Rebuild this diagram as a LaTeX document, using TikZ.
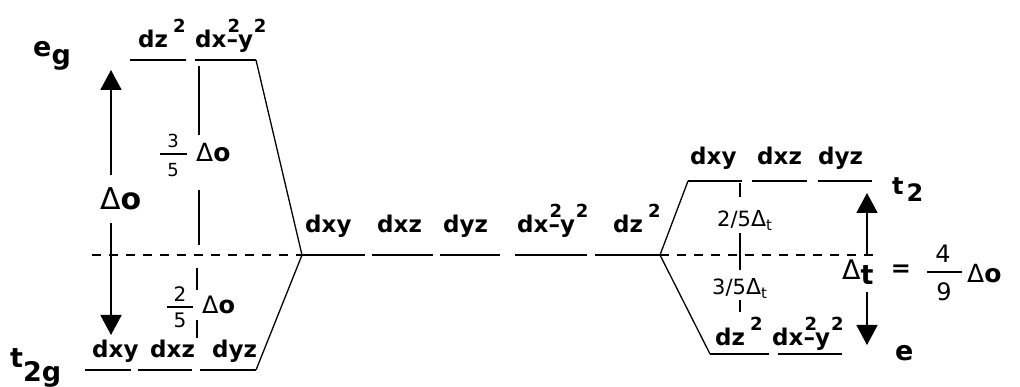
\documentclass[tikz,border=0pt]{standalone}
\usepackage{fontspec}
\setmainfont{DejaVu Sans}
\usetikzlibrary{arrows.meta}
\newcommand\supii{\raisebox{15pt}{\fontsize{18}{18}\selectfont 2}}
\newcommand\dzsq{dz\kern5pt\supii}
\newcommand\dxysq{dx\rlap{\kern1pt\supii}–y\kern1pt\supii}
\newcommand\DelO[1]{{\fontsize{#1}{#1}\selectfont\mdseries Δ}{\fontsize{#1}{#1}\selectfont\bfseries o}}
\newcommand\DelT[2]{{\fontsize{#1}{#1}\selectfont Δ}\raisebox{-4pt}{\fontsize{#2}{#2}\selectfont t}}
\tikzset{
 lvl/.style={line width=1.8pt},
 diag/.style={line width=1.3pt},
 tick/.style={line width=1.3pt},
 bar/.style={line width=1.6pt},
 dsh/.style={line width=1.3pt, dash pattern=on 9pt off 8pt},
 orb/.style={font=\fontsize{23}{23}\selectfont\bfseries, inner sep=0pt, anchor=base west},
 big/.style={font=\fontsize{27}{27}\selectfont\bfseries, inner sep=0pt, anchor=base west},
 dig/.style={inner sep=0pt},
 lab/.style={inner sep=0pt, anchor=base west},
 arr/.style={line width=1.8pt, -{Triangle[length=20pt,width=21pt]}},
}
\begin{document}
\begin{tikzpicture}[x=1pt,y=-1pt]
\useasboundingbox (0,0) rectangle (1020,387);
% coordinates
\coordinate (eg1a) at (130,60); \coordinate (eg1b) at (186,60);
\coordinate (eg2a) at (195,60); \coordinate (eg2b) at (256,60);
\coordinate (ta1) at (85,370);  \coordinate (tb1) at (131,370);
\coordinate (ta2) at (138,370); \coordinate (tb2) at (192,370);
\coordinate (ta3) at (200,370); \coordinate (tb3) at (256,370);
\coordinate (C1) at (302,255);
\coordinate (m1b) at (365,255);
\coordinate (m2a) at (372,255); \coordinate (m2b) at (433,255);
\coordinate (m3a) at (440,255); \coordinate (m3b) at (500,255);
\coordinate (m4a) at (515,255); \coordinate (m4b) at (587,255);
\coordinate (m5a) at (595,255);
\coordinate (C2) at (660,255);
\coordinate (r1a) at (688,181); \coordinate (r1b) at (742,181);
\coordinate (r2a) at (752,181); \coordinate (r2b) at (807,181);
\coordinate (r3a) at (818,181); \coordinate (r3b) at (872,181);
\coordinate (e1a) at (710,354); \coordinate (e1b) at (769,354);
\coordinate (e2a) at (778,354); \coordinate (e2b) at (842,354);
\coordinate (dl) at (92,255); \coordinate (dr) at (877,255);
% levels
\draw[lvl] (eg1a) -- (eg1b); \draw[lvl] (eg2a) -- (eg2b);
\draw[lvl] (ta1) -- (tb1); \draw[lvl] (ta2) -- (tb2); \draw[lvl] (ta3) -- (tb3);
\draw[lvl] (C1) -- (m1b); \draw[lvl] (m2a) -- (m2b); \draw[lvl] (m3a) -- (m3b);
\draw[lvl] (m4a) -- (m4b); \draw[lvl] (m5a) -- (C2);
\draw[lvl] (r1a) -- (r1b); \draw[lvl] (r2a) -- (r2b); \draw[lvl] (r3a) -- (r3b);
\draw[lvl] (e1a) -- (e1b); \draw[lvl] (e2a) -- (e2b);
% diagonals
\draw[diag] (eg2b) -- (C1) -- (tb3);
\draw[diag] (r1a) -- (C2) -- (e1a);
% dashed baselines
\draw[dsh] (dl) -- (C1);
\draw[dsh] (C2) -- (dr);
% vertical ticks left
\coordinate (v1a) at (199,66);  \coordinate (v1b) at (199,135);
\coordinate (v2a) at (199,190); \coordinate (v2b) at (199,245);
\coordinate (v3a) at (197,268); \coordinate (v3b) at (197,290);
\coordinate (v4a) at (197,320); \coordinate (v4b) at (197,338);
\draw[tick] (v1a) -- (v1b); \draw[tick] (v2a) -- (v2b);
\draw[tick] (v3a) -- (v3b); \draw[tick] (v4a) -- (v4b);
% vertical ticks right
\coordinate (w1a) at (740,183); \coordinate (w1b) at (740,197);
\coordinate (w2a) at (740,233); \coordinate (w2b) at (740,270);
\coordinate (w3a) at (740,300); \coordinate (w3b) at (740,312);
\draw[tick] (w1a) -- (w1b); \draw[tick] (w2a) -- (w2b); \draw[tick] (w3a) -- (w3b);
% arrows
\coordinate (au1) at (111,175); \coordinate (au2) at (111,70);
\coordinate (ad1) at (111,223); \coordinate (ad2) at (111,335);
\coordinate (bu1) at (867,255); \coordinate (bu2) at (867,193);
\coordinate (bd1) at (867,292); \coordinate (bd2) at (867,345);
\draw[arr] (au1) -- (au2); \draw[arr] (ad1) -- (ad2);
\draw[arr] (bu1) -- (bu2); \draw[arr] (bd1) -- (bd2);
% group labels
\node[big] (eg) at (33,57) {e\raisebox{-8pt}{g}};
\node[big] (t2g) at (10,367) {t\raisebox{-14pt}{2g}};
\node[lab, font=\fontsize{24}{24}\selectfont\bfseries] (t2) at (892,195) {t\kern3pt\raisebox{-7pt}{2}};
\node[big] (e) at (895,360) {e};
% orbital labels
\node[orb] (lz2) at (138,48) {\dzsq};
\node[orb] (lx2) at (195,48) {\dxysq};
\node[orb] (lxy) at (92,357) {dxy};
\node[orb] (lxz) at (150,357) {dxz};
\node[orb] (lyz) at (212,357) {dyz};
\node[orb] (mxy) at (305,233) {dxy};
\node[orb] (mxz) at (377,233) {dxz};
\node[orb] (myz) at (443,233) {dyz};
\node[orb] (mx2) at (517,233) {\dxysq};
\node[orb] (mz2) at (613,233) {\dzsq};
\node[orb] (rxy) at (690,165) {dxy};
\node[orb] (rxz) at (757,165) {dxz};
\node[orb] (ryz) at (818,165) {dyz};
\node[orb] (rz2) at (715,345) {\dzsq};
\node[orb] (rx2) at (772,345) {\dxysq};
% delta labels left
\node[lab] (DO) at (100,210) {\DelO{30}};
% 3/5
\node[dig, font=\fontsize{18}{18}\selectfont] (n35) at (173,141) {3};
\node[dig, font=\fontsize{18}{18}\selectfont] (d35) at (173,170) {5};
\coordinate (b35a) at (160,154); \coordinate (b35b) at (187,154);
\draw[bar] (b35a) -- (b35b);
\node[lab] (DO35) at (196,162) {\DelO{25}};
% 2/5
\node[dig, font=\fontsize{20}{20}\selectfont] (n25) at (180,294) {2};
\node[dig, font=\fontsize{20}{20}\selectfont] (d25) at (180,320) {5};
\coordinate (b25a) at (167,307); \coordinate (b25b) at (193,307);
\draw[bar] (b25a) -- (b25b);
\node[lab] (DO25) at (202,313) {\DelO{24}};
% delta labels right
\node[lab, font=\fontsize{21}{21}\selectfont] (t25) at (717,227) {2/5\DelT{22}{15}};
\node[lab, font=\fontsize{21}{21}\selectfont] (t35) at (712,295) {3/5\DelT{22}{15}};
\node[lab] (DT) at (842,280) {{\fontsize{27}{27}\selectfont Δ}\raisebox{-5pt}{\fontsize{27}{27}\selectfont\bfseries t}};
\node[inner sep=0pt, font=\fontsize{24}{24}\selectfont\bfseries] (eq) at (901,271) {=};
% 4/9
\node[dig, font=\fontsize{24}{24}\selectfont] (n49) at (943,254) {4};
\node[dig, font=\fontsize{24}{24}\selectfont] (d49) at (944,292) {9};
\coordinate (b49a) at (927,272); \coordinate (b49b) at (962,272);
\draw[bar] (b49a) -- (b49b);
\node[lab] (DO49) at (967,283) {\DelO{25}};
\end{tikzpicture}
\end{document}
